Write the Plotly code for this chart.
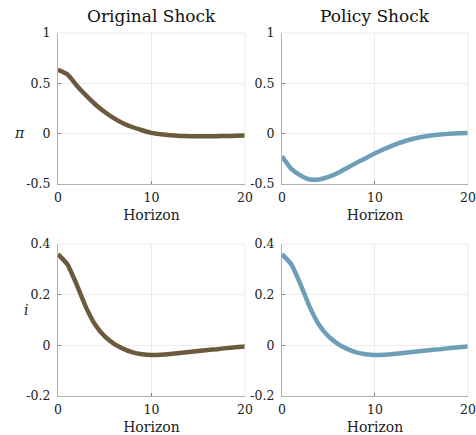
import plotly.graph_objects as go

# Impulse responses over a 20-period horizon
horizon = list(range(21))

pi_original = [0.635, 0.59, 0.48, 0.38, 0.29, 0.215, 0.152, 0.102, 0.064, 0.034, 0.008,
               -0.006, -0.016, -0.022, -0.025, -0.026, -0.026, -0.025, -0.023, -0.021, -0.019]
pi_policy = [-0.225, -0.35, -0.415, -0.455, -0.455, -0.43, -0.39, -0.34, -0.29, -0.243, -0.195,
             -0.152, -0.113, -0.08, -0.053, -0.033, -0.018, -0.008, -0.001, 0.004, 0.007]
i_original = [0.36, 0.32, 0.24, 0.15, 0.08, 0.035, 0.006, -0.014, -0.028, -0.035, -0.038,
              -0.037, -0.034, -0.03, -0.026, -0.022, -0.018, -0.015, -0.011, -0.008, -0.005]
i_policy = list(i_original)

col_titles = ["Original Shock", "Policy Shock"]
brown = "#6b5a3d"
blue = "#6f9fb8"

FONT = "DejaVu Serif"

fig = go.Figure()

xdoms = [[0.1218, 0.5147], [0.5924, 0.9832]]
ydoms = [[0.577, 0.924], [0.0897, 0.439]]
yranges = [[-0.5, 1], [-0.2, 0.4]]
ytickvals = [[-0.5, 0, 0.5, 1], [-0.2, 0, 0.2, 0.4]]
yticktext = [["-0.5", "0", "0.5", "1"], ["-0.2", "0", "0.2", "0.4"]]

series = [[pi_original, pi_policy], [i_original, i_policy]]
colors = [brown, blue]

k = 0
for r in range(2):
    for c in range(2):
        k += 1
        xa = "x" if k == 1 else f"x{k}"
        ya = "y" if k == 1 else f"y{k}"
        fig.add_trace(go.Scatter(x=horizon, y=series[r][c], mode="lines",
                                 line=dict(color=colors[c], width=4.5, shape="spline", smoothing=0.5),
                                 xaxis=xa, yaxis=ya, showlegend=False, hoverinfo="skip"))
        axis_common = dict(showgrid=True, gridcolor="#ececec", gridwidth=1,
                           showline=True, linecolor="#b0b0b0", linewidth=1,
                           ticks="inside", ticklen=3, tickcolor="#808080",
                           zeroline=False, mirror=False, automargin=False,
                           ticklabeloverflow="allow",
                           tickfont=dict(family=FONT, size=12.5, color="#222"))
        fig.layout[f"xaxis{k if k > 1 else ''}"] = go.layout.XAxis(
            domain=xdoms[c], anchor=ya, range=[0, 20], tickvals=[0, 10, 20],
            ticklabelstandoff=2,
            title=dict(text="Horizon", font=dict(family=FONT, size=14, color="#222"), standoff=6),
            **axis_common)
        fig.layout[f"yaxis{k if k > 1 else ''}"] = go.layout.YAxis(
            domain=ydoms[r], anchor=xa, range=yranges[r], ticklabelstandoff=4,
            tickvals=ytickvals[r], ticktext=yticktext[r], **axis_common)

# Column titles and row labels
annotations = []
for c in range(2):
    annotations.append(dict(text=col_titles[c], x=sum(xdoms[c]) / 2, y=1.0, xref="paper", yref="paper",
                            xanchor="center", yanchor="top", yshift=-4, showarrow=False,
                            font=dict(family=FONT, size=17, color="#111")))
annotations.append(dict(text="<i>π</i>", x=12 / 476, y=1 - 123 / 435, xref="paper", yref="paper",
                        showarrow=False, font=dict(family=FONT, size=14, color="#222")))
annotations.append(dict(text="<i>i</i>", x=22 / 476, y=1 - 320 / 435, xref="paper", yref="paper",
                        showarrow=False, font=dict(family=FONT, size=14, color="#222")))

# Light frame lines along the top and right of each panel
shapes = []
for r in range(2):
    for c in range(2):
        shapes.append(dict(type="line", xref="paper", yref="paper", x0=xdoms[c][0], x1=xdoms[c][1],
                           y0=ydoms[r][1], y1=ydoms[r][1], line=dict(color="#ececec", width=1)))
        shapes.append(dict(type="line", xref="paper", yref="paper", x0=xdoms[c][1], x1=xdoms[c][1],
                           y0=ydoms[r][0], y1=ydoms[r][1], line=dict(color="#ececec", width=1)))

fig.update_layout(width=476, height=435, margin=dict(l=0, r=0, t=0, b=0),
                  paper_bgcolor="white", plot_bgcolor="white",
                  annotations=annotations, shapes=shapes)

fig.write_html("out.html")
